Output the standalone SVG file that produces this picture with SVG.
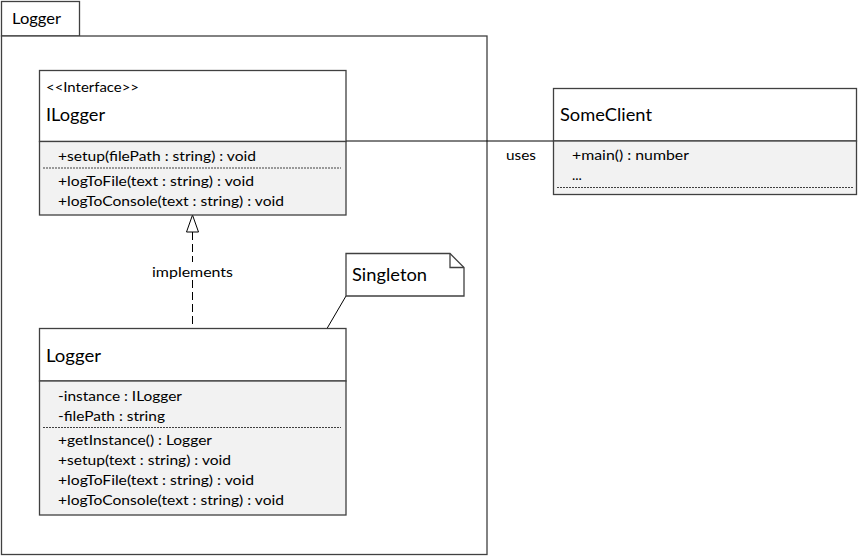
<svg xmlns="http://www.w3.org/2000/svg" width="861" height="556" viewBox="0 0 861 556">
<style>
  .box { fill: #ffffff; stroke: #404040; stroke-width: 1.3; }
  .comp { fill: #f2f2f2; stroke: #404040; stroke-width: 1.3; }
  .pkg { fill: #ffffff; stroke: #404040; stroke-width: 1.3; }
  .dots { stroke: #404040; stroke-width: 1; stroke-dasharray: 2 1; fill: none; }
  .t { font-family: Lato, "Liberation Sans", sans-serif; fill: #000000; }
  .title { font-size: 17px; }
  .mem { font-size: 14px; }
  .conn { stroke: #000000; stroke-width: 1; fill: none; }
</style>
<g id="package-Logger">
  <rect class="pkg" x="1.5" y="1.5" width="78" height="34.5"/>
  <rect class="pkg" x="1.5" y="36" width="485.5" height="518.5"/>
  <text class="t" x="12" y="24" font-size="16" textLength="49" lengthAdjust="spacingAndGlyphs">Logger</text>
</g>
<g id="connectors">
  <line class="conn" x1="346" y1="141" x2="553" y2="141"/>
  <text class="t mem" x="506" y="160" textLength="30" lengthAdjust="spacingAndGlyphs">uses</text>
  <line class="conn" x1="192.5" y1="232" x2="192.5" y2="328" stroke-dasharray="8 4"/>
  <polygon points="192.5,215 186.5,232 198.5,232" fill="#ffffff" stroke="#000000" stroke-width="1"/>
  <rect x="150" y="262" width="86" height="18" fill="#ffffff"/>
  <text class="t mem" x="152" y="277" textLength="81" lengthAdjust="spacingAndGlyphs">implements</text>
  <line class="conn" x1="346" y1="296" x2="327" y2="328.5"/>
</g>
<g id="ILogger">
  <rect class="box" x="39.5" y="70.5" width="306.5" height="71"/>
  <rect class="comp" x="39.5" y="141.5" width="306.5" height="73.5"/>
  <line class="dots" x1="43" y1="168" x2="341" y2="168"/>
  <text class="t" x="46" y="92" font-size="14" textLength="93" lengthAdjust="spacingAndGlyphs">&lt;&lt;Interface&gt;&gt;</text>
  <text class="t title" x="46" y="121" textLength="59" lengthAdjust="spacingAndGlyphs">ILogger</text>
  <text class="t mem" x="58" y="161" textLength="198" lengthAdjust="spacingAndGlyphs">+setup(filePath : string) : void</text>
  <text class="t mem" x="58" y="186" textLength="196" lengthAdjust="spacingAndGlyphs">+logToFile(text : string) : void</text>
  <text class="t mem" x="58" y="206" textLength="226" lengthAdjust="spacingAndGlyphs">+logToConsole(text : string) : void</text>
</g>
<g id="Logger">
  <rect class="box" x="39.5" y="328.5" width="306.5" height="52.5"/>
  <rect class="comp" x="39.5" y="381" width="306.5" height="134"/>
  <line class="dots" x1="43" y1="427.5" x2="341" y2="427.5"/>
  <text class="t title" x="46" y="362" textLength="55" lengthAdjust="spacingAndGlyphs">Logger</text>
  <text class="t mem" x="58" y="401" textLength="124" lengthAdjust="spacingAndGlyphs">-instance : ILogger</text>
  <text class="t mem" x="58" y="421" textLength="107" lengthAdjust="spacingAndGlyphs">-filePath : string</text>
  <text class="t mem" x="58" y="445" textLength="154" lengthAdjust="spacingAndGlyphs">+getInstance() : Logger</text>
  <text class="t mem" x="58" y="465" textLength="173" lengthAdjust="spacingAndGlyphs">+setup(text : string) : void</text>
  <text class="t mem" x="58" y="485" textLength="196" lengthAdjust="spacingAndGlyphs">+logToFile(text : string) : void</text>
  <text class="t mem" x="58" y="505" textLength="226" lengthAdjust="spacingAndGlyphs">+logToConsole(text : string) : void</text>
</g>
<g id="note-Singleton">
  <polygon class="box" points="346,253.5 450,253.5 464,267.5 464,296 346,296"/>
  <polyline points="450,253.5 450,267.5 464,267.5" fill="none" stroke="#404040" stroke-width="1.3"/>
  <text class="t title" x="352" y="281" textLength="75" lengthAdjust="spacingAndGlyphs">Singleton</text>
</g>
<g id="SomeClient">
  <rect class="box" x="553.5" y="88.5" width="303" height="52.5"/>
  <rect class="comp" x="553.5" y="141" width="303" height="53.5"/>
  <line class="dots" x1="557" y1="187.5" x2="853" y2="187.5"/>
  <text class="t title" x="560" y="121" textLength="92" lengthAdjust="spacingAndGlyphs">SomeClient</text>
  <text class="t mem" x="572" y="160" textLength="117" lengthAdjust="spacingAndGlyphs">+main() : number</text>
  <text class="t mem" x="572" y="180">...</text>
</g>
</svg>
